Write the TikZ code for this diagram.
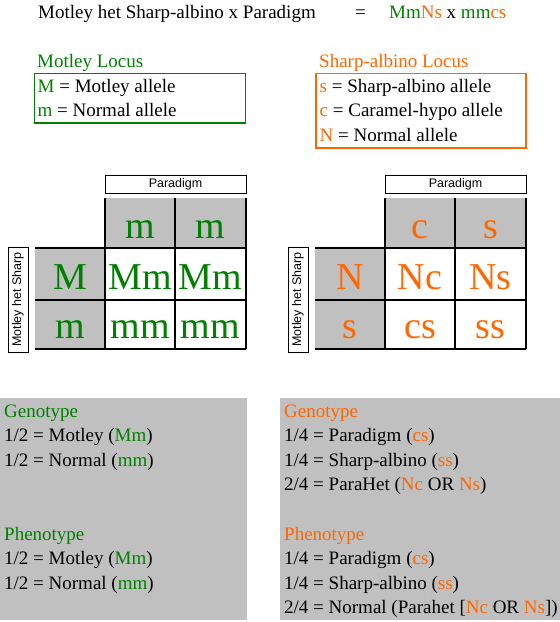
\documentclass[tikz,border=0pt]{standalone}
\usepackage{fontspec}
\setmainfont{Liberation Serif}
\setsansfont{Liberation Sans}
\definecolor{grn}{RGB}{0,128,0}
\definecolor{org}{RGB}{255,102,0}
\definecolor{cellgray}{RGB}{192,192,192}
\begin{document}
\begin{tikzpicture}[x=1pt,y=-1pt,
  txt/.style={anchor=base west,inner sep=0pt,font=\fontsize{19}{23}\selectfont},
  big/.style={anchor=base,inner sep=0pt,font=\fontsize{38}{40}\selectfont},
  lbl/.style={draw=black,line width=0.8pt,fill=white,inner sep=0pt,font=\sffamily\fontsize{12.5}{14}\selectfont},
  gridline/.style={line width=2pt},
  graycell/.style={fill=cellgray,draw=none},
  legbox/.style={line width=1.6pt}]
\useasboundingbox (0,0) rectangle (560,622);

% title
\node[txt] (title) at (38,18.5) {Motley het Sharp-albino x Paradigm};
\node[txt] (eq) at (355,18.5) {=};
\node[txt] (cross) at (389,18.5) {\textcolor{grn}{Mm}\textcolor{org}{Ns} x \textcolor{grn}{mm}\textcolor{org}{cs}};

% legends
\node[txt,text=grn] (motleyhead) at (37,67) {Motley Locus};
\draw[legbox,draw=grn] (34.5,73.5) rectangle (245.5,123);
\node[txt] (mline) at (37.5,92.7) {\textcolor{grn}{M} = Motley allele};
\node[txt] (mmline) at (37.5,116.7) {\textcolor{grn}{m} = Normal allele};

\node[txt,text=org] (sharphead) at (319,67) {Sharp-albino Locus};
\draw[legbox,draw=org] (316,73.5) rectangle (526,148);
\node[txt] (sline) at (319.5,92.7) {\textcolor{org}{s} = Sharp-albino allele};
\node[txt] (cline) at (319.5,116.7) {\textcolor{org}{c} = Caramel-hypo allele};
\node[txt] (nline) at (319.5,141.5) {\textcolor{org}{N} = Normal allele};

% left punnett
\fill[graycell] (105,198) rectangle (246,248);
\fill[graycell] (35,248) rectangle (105,349);
\draw[gridline] (105,198) -- (105,349) (175,198) -- (175,349) (246,198) -- (246,349);
\draw[gridline] (35,248) -- (246,248) (35,300) -- (246,300) (35,349) -- (246,349);
\node[lbl,minimum width=141,minimum height=18] (lpar) at (175.5,184) {Paradigm};
\node[lbl,rotate=90,minimum width=105,minimum height=20] (lmot) at (18,299.5) {Motley het Sharp};
\begin{scope}[every node/.style={big,text=grn}]
\node (l01) at (140,238) {m};
\node (l02) at (210.5,238) {m};
\node (l10) at (70,289.5) {M};
\node (l11) at (140,289.5) {Mm};
\node (l12) at (210.5,289.5) {Mm};
\node (l20) at (70,338.5) {m};
\node (l21) at (140,338.5) {mm};
\node (l22) at (210.5,338.5) {mm};
\end{scope}

% right punnett
\fill[graycell] (385,198) rectangle (526,248);
\fill[graycell] (315,248) rectangle (385,349);
\draw[gridline] (385,198) -- (385,349) (455,198) -- (455,349) (526,198) -- (526,349);
\draw[gridline] (315,248) -- (526,248) (315,300) -- (526,300) (315,349) -- (526,349);
\node[lbl,minimum width=141,minimum height=18] (rpar) at (455.5,184) {Paradigm};
\node[lbl,rotate=90,minimum width=105,minimum height=20] (rmot) at (298,299.5) {Motley het Sharp};
\begin{scope}[every node/.style={big,text=org}]
\node (r01) at (420,238) {c};
\node (r02) at (490.5,238) {s};
\node (r10) at (350,289.5) {N};
\node (r11) at (420,289.5) {Nc};
\node (r12) at (490.5,289.5) {Ns};
\node (r20) at (350,338.5) {s};
\node (r21) at (420,338.5) {cs};
\node (r22) at (490.5,338.5) {ss};
\end{scope}

% bottom boxes
\fill[cellgray] (0,397.5) rectangle (246.5,620);
\fill[cellgray] (280,397.5) rectangle (560,620);

\node[txt,text=grn] (lg) at (4,417) {Genotype};
\node[txt] (lg1) at (4,441.5) {1/2 = Motley (\textcolor{grn}{Mm})};
\node[txt] (lg2) at (4,466) {1/2 = Normal (\textcolor{grn}{mm})};
\node[txt,text=grn] (lp) at (4,540) {Phenotype};
\node[txt] (lp1) at (4,564.5) {1/2 = Motley (\textcolor{grn}{Mm})};
\node[txt] (lp2) at (4,589) {1/2 = Normal (\textcolor{grn}{mm})};

\node[txt,text=org] (rg) at (284,417) {Genotype};
\node[txt] (rg1) at (284,441.5) {1/4 = Paradigm (\textcolor{org}{cs})};
\node[txt] (rg2) at (284,466) {1/4 = Sharp-albino (\textcolor{org}{ss})};
\node[txt] (rg3) at (284,490.5) {2/4 = ParaHet (\textcolor{org}{Nc} OR \textcolor{org}{Ns})};
\node[txt,text=org] (rp) at (284,540) {Phenotype};
\node[txt] (rp1) at (284,564.5) {1/4 = Paradigm (\textcolor{org}{cs})};
\node[txt] (rp2) at (284,589) {1/4 = Sharp-albino (\textcolor{org}{ss})};
\node[txt] (rp3) at (284,613.5) {2/4 = Normal (Parahet [\textcolor{org}{Nc} OR \textcolor{org}{Ns}])};
\end{tikzpicture}
\end{document}
